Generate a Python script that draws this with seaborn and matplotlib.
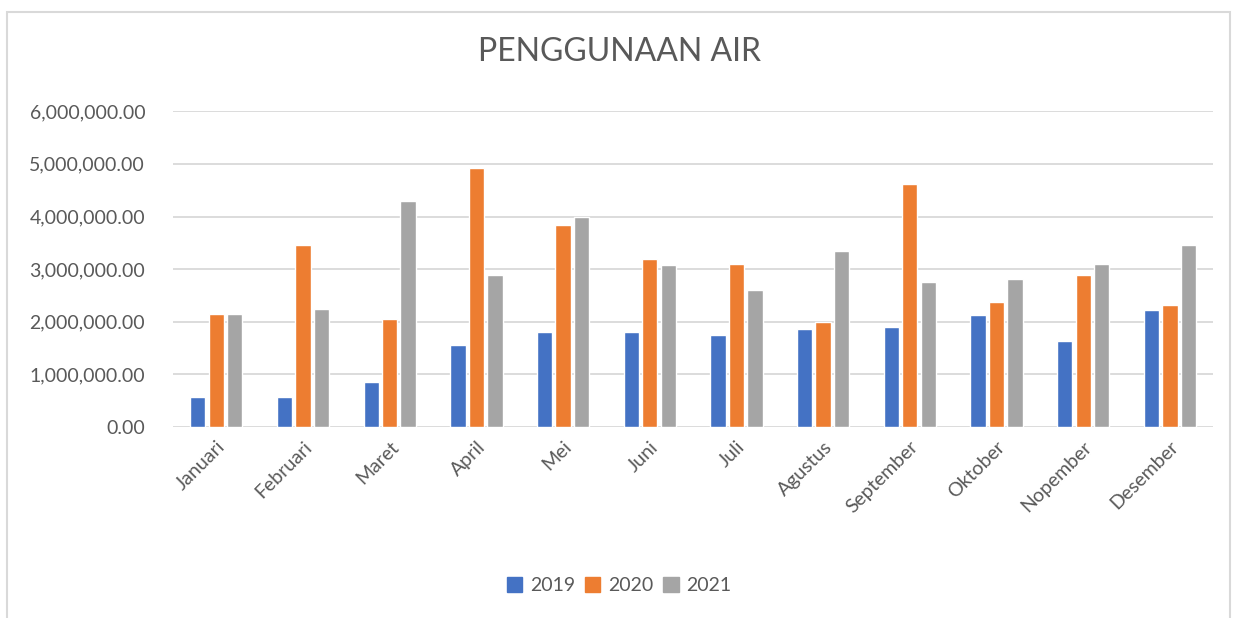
import seaborn as sns
import matplotlib.pyplot as plt
import matplotlib.patches as mpatches
import matplotlib.ticker as mticker
import pandas as pd

# data
bulan = ["Januari", "Februari", "Maret", "April", "Mei", "Juni", "Juli",
         "Agustus", "September", "Oktober", "Nopember", "Desember"]
th2019 = [573000, 573000, 853000, 1567000, 1800000, 1800000, 1745000,
          1870000, 1900000, 2130000, 1640000, 2230000]
th2020 = [2153000, 3450000, 2050000, 4920000, 3830000, 3200000, 3100000,
          2000000, 4610000, 2380000, 2890000, 2310000]
th2021 = [2153000, 2250000, 4300000, 2890000, 3990000, 3070000, 2610000,
          3350000, 2760000, 2820000, 3100000, 3450000]
tahun = ["2019", "2020", "2021"]
warna = ["#4472C4", "#ED7D31", "#A5A5A5"]

df = pd.DataFrame({"Bulan": bulan * 3,
                   "Tahun": [t for t in tahun for _ in bulan],
                   "Air": th2019 + th2020 + th2021})

sns.set_theme(style="white")
plt.rcParams["font.family"] = ["Lato", "DejaVu Sans"]

fig = plt.figure(figsize=(12.38, 6.18), dpi=100)
ax = fig.add_axes([0.1397, 0.309, 0.8403, 0.511])

sns.barplot(data=df, x="Bulan", y="Air", hue="Tahun", palette=warna,
            width=0.64, gap=0.17, saturation=1, ax=ax, legend=False)

ax.set_ylim(0, 6000000)
ax.set_xlim(-0.5, 11.5)
ax.yaxis.set_major_locator(mticker.MultipleLocator(1000000))
ax.yaxis.set_major_formatter(mticker.StrMethodFormatter("{x:,.2f}"))
ax.grid(axis="y", color="#D9D9D9", linewidth=1.3)
ax.set_axisbelow(True)
for s in ax.spines.values():
    s.set_visible(False)
ax.set_xlabel("")
ax.set_ylabel("")
ax.tick_params(axis="both", length=0, colors="#595959", labelsize=14)
ax.tick_params(axis="y", pad=20)
ax.tick_params(axis="x", pad=8)
plt.setp(ax.get_xticklabels(), rotation=45, ha="right",
         rotation_mode="anchor")

fig.text(0.5, 1 - 52 / 618, "PENGGUNAAN AIR", ha="center", va="center",
         fontsize=23, color="#595959")

handles = [mpatches.Patch(color=c, label=t) for c, t in zip(warna, tahun)]
fig.legend(handles=handles, loc="center", bbox_to_anchor=(0.5, 0.053),
           ncol=3, frameon=False, fontsize=14, handlelength=0.8,
           handleheight=0.8, handletextpad=0.4, columnspacing=0.5,
           labelcolor="#595959")

# light border round the chart
fig.patches.append(mpatches.Rectangle((7 / 1238, -0.02), 1223 / 1238, 1.0,
                                      transform=fig.transFigure,
                                      fill=False, edgecolor="#D9D9D9",
                                      linewidth=1.5))

fig.savefig("out.png", dpi=100)
